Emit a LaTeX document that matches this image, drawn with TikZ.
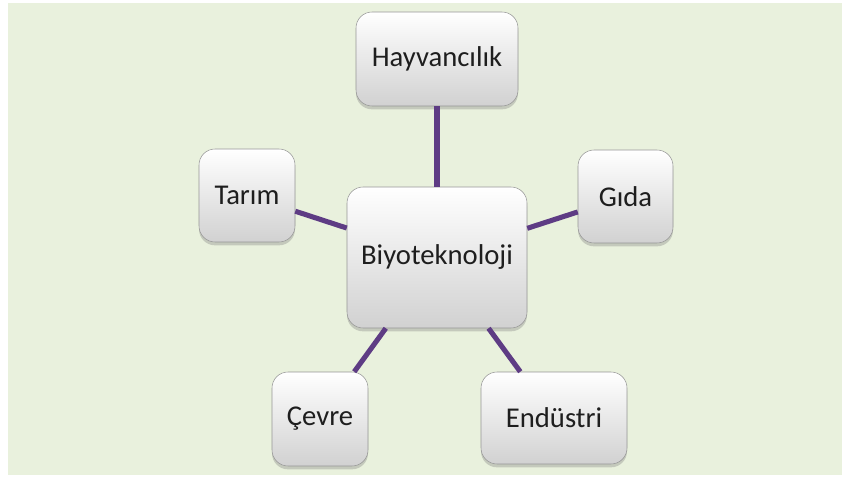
\documentclass[tikz,border=0pt]{standalone}
\usepackage{fontspec}
\setmainfont{Carlito}
\usetikzlibrary{positioning,shadows}
\definecolor{Purple}{RGB}{94,60,132}
\definecolor{Sage}{RGB}{233,241,221}
\definecolor{Ink}{RGB}{30,30,30}
\definecolor{Rim}{RGB}{150,150,150}

\begin{document}
\begin{tikzpicture}[x=.75pt,y=-.75pt,
 b/.style={rounded corners=12pt,draw=Rim,line width=.4pt,top color=white,bottom color=black!18,
  drop shadow={opacity=.35,shadow xshift=0pt,shadow yshift=-2.5pt},
  inner sep=0pt,align=center,text=Ink,font=\fontsize{21.5}{25}\selectfont},
 l/.style={line width=3.8pt,Purple}]
\useasboundingbox (0,0) rectangle (856,477);
\fill[Sage] (8,3) rectangle (842,475);
% centre and the five fields round it
\node[b,minimum width=135pt,minimum height=105.75pt] (bio) at (437,257.5) {Biyoteknoloji};
\node[b,minimum width=121.5pt,minimum height=70.5pt] (hay) at (437,59) {Hayvancılık};
\node[b,minimum width=72pt,minimum height=69.75pt] (tar) at (247,195.5) {Tarım};
\node[b,minimum width=71.25pt,minimum height=69.75pt] (gid) at (625.5,196.5) {Gıda};
\node[b,minimum width=72pt,minimum height=70.5pt] (cev) at (320,419) {Çevre};
\node[b,minimum width=109.5pt,minimum height=69pt] (end) at (554,418) {Endüstri};
\draw[l] (bio)--(hay);
\draw[l] (bio)--(tar);
\draw[l] (bio)--(gid);
\draw[l] (bio)--(cev);
\draw[l] (bio)--(end);
\end{tikzpicture}
\end{document}
